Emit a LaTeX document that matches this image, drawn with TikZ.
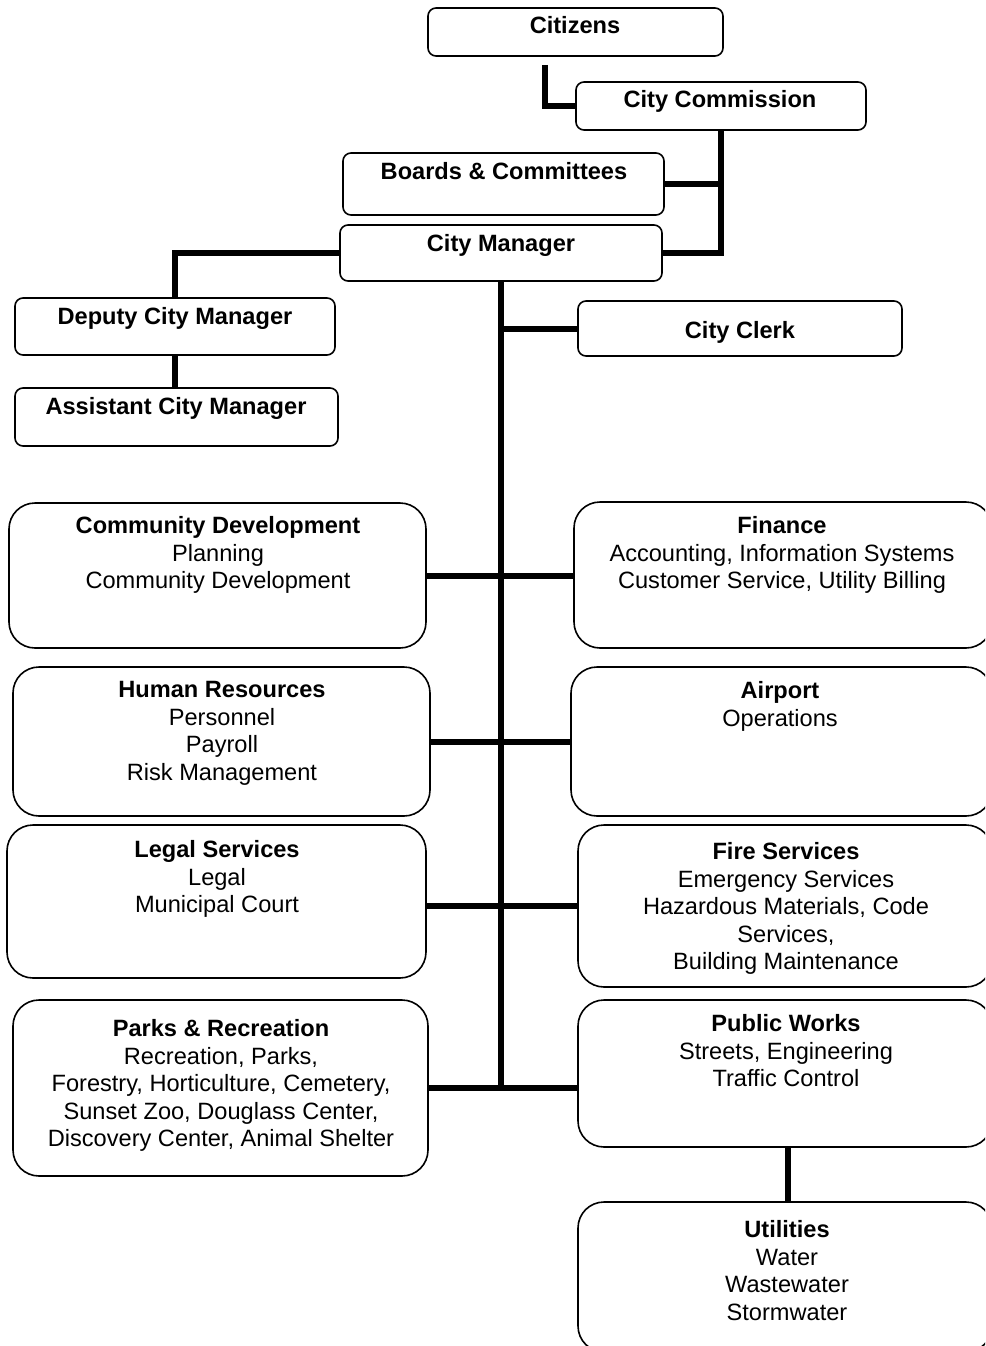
\documentclass[tikz,border=0pt]{standalone}
\usepackage{fontspec}
\setmainfont{Liberation Sans}
\begin{document}
\begin{tikzpicture}[x=1pt,y=-1pt,
  orgbox/.style={draw=black, line width=1.6pt, fill=white, rounded corners=8pt, inner sep=0pt},
  bigbox/.style={orgbox, rounded corners=26pt},
  txt/.style={anchor=north, align=center, inner sep=0pt, font=\fontsize{23.6}{27.5}\selectfont},
  conn/.style={line width=6pt, line join=miter, black}]
\useasboundingbox (0,0) rectangle (985,1346);
\clip (0,0) rectangle (985,1346);
% boxes
\node[orgbox, minimum width=295pt, minimum height=48pt] (cit) at (575.5,32) {};
\node[orgbox, minimum width=290pt, minimum height=48pt] (com) at (721,106) {};
\node[orgbox, minimum width=321pt, minimum height=62pt] (brd) at (503.5,184) {};
\node[orgbox, minimum width=322pt, minimum height=56pt] (mgr) at (501,253) {};
\node[orgbox, minimum width=320pt, minimum height=57pt] (dep) at (175,326.5) {};
\node[orgbox, minimum width=323pt, minimum height=58pt] (asst) at (176.5,417) {};
\node[orgbox, minimum width=324pt, minimum height=55pt] (clerk) at (740,328.5) {};
\node[bigbox, minimum width=417pt, minimum height=145pt] (cd) at (217.5,575.5) {};
\node[bigbox, minimum width=418pt, minimum height=146pt] (fin) at (783,575) {};
\node[bigbox, minimum width=417pt, minimum height=149pt] (hr) at (221.5,741.5) {};
\node[bigbox, minimum width=421pt, minimum height=149pt] (air) at (781.5,741.5) {};
\node[bigbox, minimum width=419pt, minimum height=153pt] (legal) at (216.5,901.5) {};
\node[bigbox, minimum width=414pt, minimum height=162pt] (fire) at (785,906) {};
\node[bigbox, minimum width=415pt, minimum height=176pt] (parks) at (220.5,1088) {};
\node[bigbox, minimum width=414pt, minimum height=147pt] (pw) at (785,1073.5) {};
\node[bigbox, minimum width=414pt, minimum height=150pt] (util) at (785,1277) {};
% connectors
\coordinate (citdrop) at (545,65);
\draw[conn] (citdrop) |- (com.west);
\draw[conn] (com.south) |- (mgr.east);
\draw[conn] (brd.east) -- (brd.east -| com.south);
\draw[conn] (mgr.west) -| (dep.north);
\draw[conn] (dep.south) -- (dep.south |- asst.north);
\draw[conn] (mgr.south) -- (mgr.south |- parks.east);
\draw[conn] (clerk.west) -- (clerk.west -| mgr.south);
\draw[conn] (cd.east) -- (cd.east -| fin.west);
\draw[conn] (hr.east) -- (hr.east -| air.west);
\draw[conn] (legal.east |- fire.west) -- (fire.west);
\draw[conn] (parks.east) -- (parks.east -| pw.west);
\draw[conn] ([xshift=3pt]pw.south) -- ([xshift=3pt]util.north);
% texts
\node[txt] (tcit) at (575,16.5) {\textbf{Citizens}};
\node[txt] (tcom) at (720,90.5) {\textbf{City Commission}};
\node[txt] (tbrd) at (504,162.5) {\textbf{Boards \& Committees}};
\node[txt] (tmgr) at (501,234.5) {\textbf{City Manager}};
\node[txt] (tdep) at (175,307.5) {\textbf{Deputy City Manager}};
\node[txt] (tasst) at (176,397.5) {\textbf{Assistant City Manager}};
\node[txt] (tclerk) at (740,321.5) {\textbf{City Clerk}};
\node[txt] (tcd) at (218,516.5) {\textbf{Community Development}\\Planning\\Community Development};
\node[txt] (tfin) at (782,516.5) {\textbf{Finance}\\Accounting, Information Systems\\Customer Service, Utility Billing};
\node[txt] (thr) at (222,681.5) {\textbf{Human Resources}\\Personnel\\Payroll\\Risk Management};
\node[txt] (tair) at (780,681.5) {\textbf{Airport}\\Operations};
\node[txt] (tlegal) at (217,840.5) {\textbf{Legal Services}\\Legal\\Municipal Court};
\node[txt] (tfire) at (786,842.5) {\textbf{Fire Services}\\Emergency Services\\Hazardous Materials, Code\\Services,\\Building Maintenance};
\node[txt] (tparks) at (221,1019.5) {\textbf{Parks \& Recreation}\\Recreation, Parks,\\Forestry, Horticulture, Cemetery,\\Sunset Zoo, Douglass Center,\\Discovery Center, Animal Shelter};
\node[txt] (tpw) at (786,1014.5) {\textbf{Public Works}\\Streets, Engineering\\Traffic Control};
\node[txt] (tutil) at (787,1220.5) {\textbf{Utilities}\\Water\\Wastewater\\Stormwater};
\end{tikzpicture}
\end{document}
